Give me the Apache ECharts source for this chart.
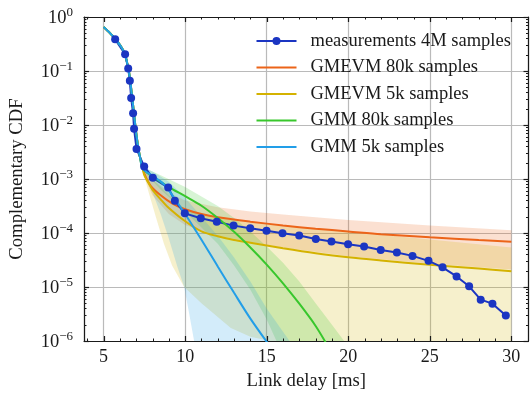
<!DOCTYPE html>
<html><head><meta charset="utf-8">
<script src="https://cdn.jsdelivr.net/npm/echarts@6/dist/echarts.min.js"></script>
<style>html,body{margin:0;padding:0;background:#fff}#c{width:531px;height:396px}</style>
</head><body><div id="c"></div>
<script>
// ---- tick values ----
const xMajorTicks = [5, 10, 15, 20, 25, 30];
const xMinorTicks = [4, 6, 7, 8, 9, 11, 12, 13, 14, 16, 17, 18, 19, 21, 22, 23, 24, 26, 27, 28, 29, 31];
const yMajorTicks = [1e-6, 1e-5, 1e-4, 1e-3, 1e-2, 1e-1, 1];
const yMinorMult = [2, 3, 4, 5, 6, 7, 8, 9];

// ---- measurements ----
const measX = [5.71, 6.32, 6.51, 6.61, 6.69, 6.81, 6.87, 7.02, 7.49, 8.02, 8.96, 9.37, 9.98, 10.96, 11.94, 12.97, 13.99, 14.99, 15.97, 16.99, 18.01, 18.97, 19.99, 20.97, 21.99, 22.98, 23.94, 24.92, 25.78, 26.64, 27.41, 28.12, 28.84, 29.66];
const measY = [0.386, 0.204, 0.111, 0.066, 0.0316, 0.0165, 0.0085, 0.0036, 0.0017, 0.00105, 6.95e-4, 3.95e-4, 2.31e-4, 1.87e-4, 1.62e-4, 1.37e-4, 1.22e-4, 1.1e-4, 9.86e-5, 8.95e-5, 7.76e-5, 6.95e-5, 6.2e-5, 5.62e-5, 4.86e-5, 4.35e-5, 3.77e-5, 3.05e-5, 2.31e-5, 1.57e-5, 1.03e-5, 5.83e-6, 4.92e-6, 2.96e-6];

// ---- shared body of all fitted curves ----
const headX = [5.0, 5.4, 5.75, 6.05, 6.3, 6.45, 6.55, 6.65, 6.75, 6.85, 6.95, 7.05, 7.15, 7.25];
const headY = [0.65, 0.5, 0.38, 0.29, 0.21, 0.14, 0.1, 0.06, 0.033, 0.018, 0.0095, 0.0055, 0.0035, 0.0024];

// ---- fitted curve tails ----
const gmevm80kX = [7.4, 7.6, 7.9, 8.5, 9.2, 10, 11, 12, 14, 16, 18, 20, 22, 25, 28, 30];
const gmevm80kY = [1.55e-3, 1.07e-3, 7.4e-4, 5.0e-4, 3.55e-4, 2.75e-4, 2.24e-4, 1.95e-4, 1.62e-4, 1.38e-4, 1.2e-4, 1.07e-4, 9.5e-5, 8.3e-5, 7.4e-5, 6.9e-5];
const gmevm5kX = [7.4, 7.5, 7.75, 8, 8.5, 8.9, 9.9, 11, 12, 13, 14, 16, 18, 20, 22, 25, 28, 30];
const gmevm5kY = [1.55e-3, 1.17e-3, 8.5e-4, 6.3e-4, 4.2e-4, 3.1e-4, 1.74e-4, 1.07e-4, 8.7e-5, 7.4e-5, 6.6e-5, 5.2e-5, 4.2e-5, 3.55e-5, 3.1e-5, 2.57e-5, 2.2e-5, 1.95e-5];
const gmm80kX = [7.4, 8, 9, 10, 11, 12, 13, 14, 15, 16, 17, 18, 18.7];
const gmm80kY = [1.55e-3, 1.12e-3, 7.1e-4, 4.8e-4, 3.2e-4, 1.9e-4, 1.05e-4, 5.4e-5, 2.6e-5, 1.17e-5, 4.9e-6, 1.9e-6, 8.5e-7];
const gmm5kX = [7.4, 8, 8.7, 9.3, 9.9, 11, 12, 13, 14, 15.2];
const gmm5kY = [1.55e-3, 1.15e-3, 8.0e-4, 4.6e-4, 2.5e-4, 7.5e-5, 2.4e-5, 7.8e-6, 2.6e-6, 8e-7];

// ---- confidence bands [x, y] ----
const gmevm80kBandHi = [[7.4,1.66e-3],[7.7,1.26e-3],[8,1.0e-3],[9,5.6e-4],[10,4.0e-4],[12,3.0e-4],[14,2.5e-4],[16,2.2e-4],[20,1.74e-4],[25,1.38e-4],[30,1.12e-4]];
const gmevm80kBandLo = [[7.4,1.45e-3],[7.7,7.9e-4],[8,5.0e-4],[9,2.24e-4],[10,1.41e-4],[12,8.9e-5],[14,6.8e-5],[16,5.4e-5],[20,3.7e-5],[25,2.7e-5],[30,2.1e-5]];
const gmevm5kBandHi = [[7.4,1.66e-3],[7.7,1.32e-3],[8,1.0e-3],[9,5.0e-4],[10,2.8e-4],[12,1.9e-4],[14,1.58e-4],[16,1.35e-4],[20,1.07e-4],[25,7.6e-5],[30,5.4e-5]];
const gmevm5kBandLo = [[7.4,1.45e-3],[7.7,6.6e-4],[8.2,2.0e-4],[8.7,6.3e-5],[9.2,2.5e-5],[9.94,1.0e-5],[11,5.0e-6],[12.8,1.74e-6],[14,1.2e-6],[16,8.9e-7],[30,5e-7]];
const gmm80kBandHi = [[7.4,1.66e-3],[8.5,1.17e-3],[10,7.1e-4],[12,3.16e-4],[13,1.9e-4],[14,1.07e-4],[15,5.6e-5],[16,2.8e-5],[17,1.26e-5],[18,5.0e-6],[19,2.0e-6],[19.75,1.0e-6],[20,8e-7]];
const gmm80kBandLo = [[7.4,1.45e-3],[8.5,6.3e-4],[10,2.5e-4],[11,1.26e-4],[12,6.3e-5],[13,2.5e-5],[14,8.9e-6],[15,2.5e-6],[15.6,1.0e-6],[15.8,8e-7]];
const gmm5kBandHi = [[7.4,1.66e-3],[8,1.38e-3],[9,8.9e-4],[10,4.5e-4],[11,2.0e-4],[12,8.9e-5],[13,3.5e-5],[14,1.26e-5],[15,4.0e-6],[16.4,1.0e-6],[16.7,8e-7]];
const gmm5kBandLo = [[7.4,1.48e-3],[8,5.6e-4],[8.5,2.24e-4],[9,7.9e-5],[9.5,2.5e-5],[9.94,1.0e-5],[10.25,3.2e-6],[10.55,1.0e-6],[10.7,5e-7]];

const C = {
  meas: '#1b35c2', gmevm80k: '#ec6419', gmevm5k: '#d4b200', gmm80k: '#38c72c', gmm5k: '#229ee8'
};
const FONT = "'Liberation Serif', 'DejaVu Serif', serif";
const INK = '#1a1a1a';

function zip(xs, ys) { return xs.map((x, i) => [x, ys[i]]); }
function curve(tx, ty) { return zip(headX, headY).concat(zip(tx, ty)); }
function rgba(hex, a) {
  const n = parseInt(hex.slice(1), 16);
  return `rgba(${n >> 16},${(n >> 8) & 255},${n & 255},${a})`;
}
function band(hi, lo, color) {
  const pts = hi.concat(lo.slice().reverse());
  return {
    type: 'custom', clip: true, silent: true, z: 1,
    data: [[10, 1e-3]],
    renderItem: (params, api) => ({
      type: 'polygon',
      shape: { points: pts.map(p => api.coord(p)) },
      style: { fill: rgba(color, 0.2) }
    })
  };
}
function lineSeries(name, data, color) {
  return {
    name, type: 'line', data, symbol: 'none', smooth: 0.3,
    lineStyle: { color, width: 2 }, itemStyle: { color }, z: 3
  };
}

const yMinorTicks = [];
yMajorTicks.slice(0, -1).forEach(d => yMinorMult.forEach(m => yMinorTicks.push(m * d)));

// tick marks drawn inside on all four sides
const tickSeries = {
  type: 'custom', silent: true, clip: false, z: 10,
  data: [[10, 1e-3]],
  renderItem: (params, api) => {
    const cs = params.coordSys;
    const L = cs.x, R = cs.x + cs.width, T = cs.y, B = cs.y + cs.height;
    const ch = [];
    const seg = (x1, y1, x2, y2, w) => ch.push({ type: 'line', shape: { x1, y1, x2, y2 }, style: { stroke: INK, lineWidth: w } });
    const px = v => Math.round(api.coord([v, 1e-3])[0]) + 0.5;
    const py = v => Math.round(api.coord([10, v])[1]) + 0.5;
    xMajorTicks.forEach(v => { const p = px(v); seg(p, B, p, B - 5, 1.2); seg(p, T, p, T + 5, 1.2); });
    xMinorTicks.forEach(v => { const p = px(v); seg(p, B, p, B - 2.5, 1); seg(p, T, p, T + 2.5, 1); });
    yMajorTicks.forEach(v => { const p = py(v); seg(L, p, L + 5, p, 1.2); seg(R, p, R - 5, p, 1.2); });
    yMinorTicks.forEach(v => { const p = py(v); seg(L, p, L + 2.5, p, 1); seg(R, p, R - 2.5, p, 1); });
    return { type: 'group', children: ch };
  }
};

const XMIN = 3.8, XMAX = 31.05;
const spine = { show: true, lineStyle: { color: INK, width: 1.2 } };
const gridLine = { show: true, lineStyle: { color: '#bababa', width: 1.2 } };

const lineIcon = 'path://M0,0 L0,0 M0,8 L0,8 M0,3 L40,3 L40,5 L0,5 Z';
const dotIcon = 'path://M0,3 L40,3 L40,5 L0,5 Z M24,4 A4,4 0 1,1 16,4 A4,4 0 1,1 24,4 Z';

const chart = echarts.init(document.getElementById('c'), null, { renderer: 'canvas' });
chart.setOption({
  animation: false,
  backgroundColor: '#fff',
  grid: { left: 83, top: 17, right: 2.5, bottom: 53, containLabel: false },
  legend: {
    left: 256.5, top: 31, padding: 0, orient: 'vertical', itemWidth: 40, itemHeight: 8, itemGap: 6.5,
    textStyle: { fontFamily: FONT, fontSize: 18.5, color: INK, lineHeight: 20, padding: [0, 0, 0, 9] },
    data: [
      { name: 'measurements 4M samples', icon: dotIcon },
      { name: 'GMEVM 80k samples', icon: lineIcon },
      { name: 'GMEVM 5k samples', icon: lineIcon },
      { name: 'GMM 80k samples', icon: lineIcon },
      { name: 'GMM 5k samples', icon: lineIcon }
    ]
  },
  xAxis: [
    {
      type: 'value', position: 'bottom', min: XMIN, max: XMAX, splitNumber: 5,
      axisLine: spine, axisTick: { show: false },
      axisLabel: { show: true, customValues: xMajorTicks, fontFamily: FONT, fontSize: 18, color: INK, margin: 7 },
      splitLine: gridLine,
      name: 'Link delay [ms]', nameLocation: 'middle', nameGap: 31,
      nameTextStyle: { fontFamily: FONT, fontSize: 18.7, color: INK }
    },
    {
      type: 'value', position: 'top', min: XMIN, max: XMAX,
      axisLine: spine, axisTick: { show: false }, axisLabel: { show: false }, splitLine: { show: false }
    }
  ],
  yAxis: [
    {
      type: 'log', logBase: 10, position: 'left', min: 1e-6, max: 1, splitNumber: 6,
      axisLine: spine, axisTick: { show: false },
      axisLabel: {
        show: true, margin: 11, color: INK,
        formatter: v => {
          const e = Math.round(Math.log10(v));
          return '{b|10}{s|' + (e === 0 ? '0' : '\u2212' + Math.abs(e)) + '}';
        },
        rich: {
          b: { fontFamily: FONT, fontSize: 18.5, color: INK, lineHeight: 22, verticalAlign: 'bottom' },
          s: { fontFamily: FONT, fontSize: 13, color: INK, lineHeight: 13, verticalAlign: 'top' }
        }
      },
      splitLine: gridLine,
      name: 'Complementary CDF', nameLocation: 'middle', nameGap: 57,
      nameTextStyle: { fontFamily: FONT, fontSize: 18.7, color: INK }
    },
    {
      type: 'log', logBase: 10, position: 'right', min: 1e-6, max: 1,
      axisLine: spine, axisTick: { show: false }, axisLabel: { show: false }, splitLine: { show: false }
    }
  ],
  series: [
    band(gmevm80kBandHi, gmevm80kBandLo, C.gmevm80k),
    band(gmevm5kBandHi, gmevm5kBandLo, C.gmevm5k),
    band(gmm80kBandHi, gmm80kBandLo, C.gmm80k),
    band(gmm5kBandHi, gmm5kBandLo, C.gmm5k),
    lineSeries('GMEVM 80k samples', curve(gmevm80kX, gmevm80kY), C.gmevm80k),
    lineSeries('GMEVM 5k samples', curve(gmevm5kX, gmevm5kY), C.gmevm5k),
    {
      name: 'measurements 4M samples', type: 'line', data: zip(measX, measY),
      symbol: 'circle', symbolSize: 8, showSymbol: true,
      lineStyle: { color: C.meas, width: 2 }, itemStyle: { color: C.meas }, z: 3
    },
    lineSeries('GMM 80k samples', curve(gmm80kX, gmm80kY), C.gmm80k),
    lineSeries('GMM 5k samples', curve(gmm5kX, gmm5kY), C.gmm5k),
    tickSeries
  ]
});
</script>
</body></html>
